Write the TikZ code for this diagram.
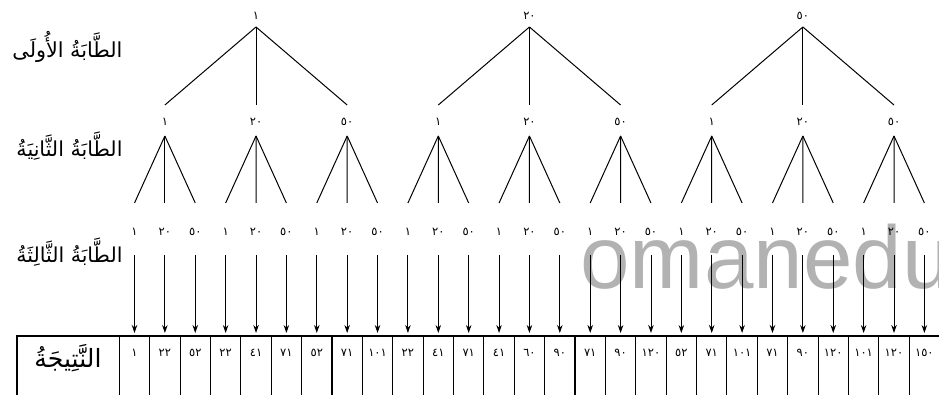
\documentclass[tikz,border=0pt]{standalone}
\usepackage{fontspec}
\newfontfamily\arabicfont[Script=Arabic]{DejaVu Sans}
\newfontfamily\wmfont{Liberation Sans}
\TeXXeTstate=1
\usetikzlibrary{arrows.meta}
\newcommand\digval[1]{\ifcase#1 ١\or ٢٠\or ٥٠\fi}
\newcommand\arlabel[2]{\resizebox{#1}{!}{\arabicfont\fontsize{17}{20}\selectfont #2}}
\begin{document}
\begin{tikzpicture}[x=1pt,y=-1pt,line width=1pt,
  num/.style={font=\arabicfont\fontsize{11.5}{12}\selectfont,inner sep=0pt},
  lab/.style={inner sep=0pt,anchor=east},
  arr/.style={-{Stealth[length=8pt,width=5.5pt]},line width=0.9pt},
  tabline/.style={line width=1.1pt}]
\useasboundingbox (0,0) rectangle (939,395);
% watermark
\node[anchor=base west,inner sep=0pt,text=black!30,font=\wmfont\fontsize{89}{89}\selectfont] (wm) at (580,288) {omanedu};
% row coordinates
\coordinate (r1) at (0,27);
\coordinate (r2) at (0,105);
\coordinate (r3) at (0,136);
\coordinate (r4) at (0,203);
\coordinate (r5) at (0,255);
\coordinate (r6) at (0,333);
% level labels
\node[lab] (L1) at (123,47) {\arlabel{110pt}{\beginR الطَّابَةُ الأُولَى\endR}};
\node[lab] (L2) at (123,146) {\arlabel{106pt}{\beginR الطَّابَةُ الثَّانِيَةُ\endR}};
\node[lab] (L3) at (123,252) {\arlabel{106pt}{\beginR الطَّابَةُ الثَّالِثَةُ\endR}};
% nodes
\foreach \k in {0,...,26}{
  \pgfmathsetmacro\x{134.5+30.38*\k}
  \pgfmathtruncatemacro\m{mod(\k,3)}
  \node[num] (c\k) at (\x,232) {\digval{\m}};
}
\foreach \j in {0,...,8}{
  \pgfmathsetmacro\x{164.88+91.14*\j}
  \pgfmathtruncatemacro\m{mod(\j,3)}
  \node[num] (b\j) at (\x,122) {\digval{\m}};
}
\foreach \i in {0,1,2}{
  \pgfmathsetmacro\x{256.02+273.42*\i}
  \node[num] (t\i) at (\x,16) {\digval{\i}};
}
% edges
\foreach \i in {0,1,2}{
  \foreach \d in {0,1,2}{
    \pgfmathtruncatemacro\j{3*\i+\d}
    \draw (t\i |- r1) -- (b\j |- r2);
  }
}
\foreach \j in {0,...,8}{
  \foreach \d in {0,1,2}{
    \pgfmathtruncatemacro\k{3*\j+\d}
    \draw (b\j |- r3) -- (c\k |- r4);
  }
}
% table
\draw[tabline] (17,395) -- (17,336) -- (939,336);
\foreach \k in {0,...,26}{
  \draw[tabline] (119.3+30.38*\k,336) -- (119.3+30.38*\k,395);
}
\node[lab,anchor=center] (res) at (68,358) {\arlabel{67pt}{\beginR النَّتِيجَةُ\endR}};
\foreach \k/\v in {0/١,1/٢٢,2/٥٢,3/٢٢,4/٤١,5/٧١,6/٥٢,7/٧١,8/١٠١,9/٢٢,10/٤١,11/٧١,12/٤١,13/٦٠,14/٩٠,15/٧١,16/٩٠,17/١٢٠,18/٥٢,19/٧١,20/١٠١,21/٧١,22/٩٠,23/١٢٠,24/١٠١,25/١٢٠,26/١٥٠}{
  \node[num] (d\k) at (134.5+30.38*\k,353) {\v};
  \draw[arr] (c\k |- r5) -- (d\k |- r6);
}
\end{tikzpicture}
\end{document}
